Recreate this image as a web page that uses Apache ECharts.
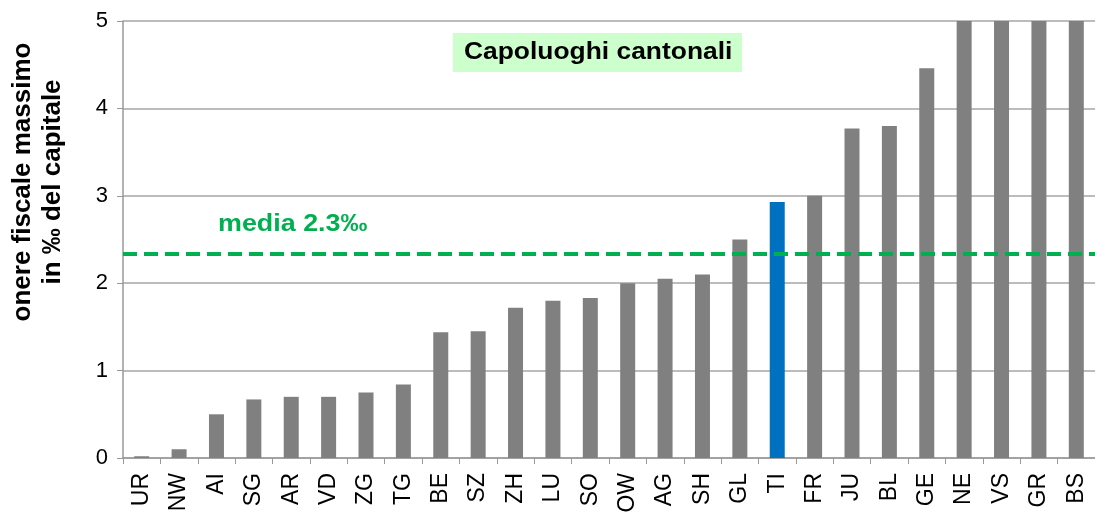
<!DOCTYPE html>
<html>
<head>
<meta charset="utf-8">
<script src="https://cdn.jsdelivr.net/npm/echarts@6/dist/echarts.min.js"></script>
<style>
  html, body { margin: 0; padding: 0; background: #fff; }
  #chart { width: 1095px; height: 521px; }
</style>
</head>
<body>
<div id="chart"></div>
<script>
// cantons, sorted by tax burden
const cantons = ["UR", "NW", "AI", "SG", "AR", "VD", "ZG", "TG", "BE", "SZ", "ZH", "LU", "SO",
  "OW", "AG", "SH", "GL", "TI", "FR", "JU", "BL", "GE", "NE", "VS", "GR", "BS"];
// onere fiscale massimo in ‰ (values above 5 are cut off in the picture)
const burden = [0.02, 0.1, 0.5, 0.67, 0.7, 0.7, 0.75, 0.84, 1.44, 1.45, 1.72, 1.8, 1.83,
  2.0, 2.05, 2.1, 2.5, 2.93, 3.0, 3.77, 3.8, 4.46, 5.2, 5.4, 5.6, 5.8];
const highlight = "TI";
const mean = 2.34;
const yTicks = [0, 1, 2, 3, 4, 5];

const chart = echarts.init(document.getElementById("chart"));
const font = "Liberation Sans, Arial, sans-serif";

chart.setOption({
  animation: false,
  textStyle: { fontFamily: font },
  graphic: [
    // title box
    {
      type: "rect", left: 453, top: 33, z: 10,
      shape: { width: 289, height: 39 },
      style: { fill: "#ccffcc" }
    },
    {
      type: "text", x: 464, y: 52, scaleX: 1.1, z: 11,
      style: {
        text: "Capoluoghi cantonali", fill: "#000",
        fontSize: 24, fontWeight: "bold", fontFamily: font,
        align: "left", verticalAlign: "middle"
      }
    },
    // mean label
    {
      type: "text", x: 218, y: 224, scaleX: 1.12, z: 11,
      style: {
        text: "media 2.3‰", fill: "#00b050",
        fontSize: 24, fontWeight: "bold", fontFamily: font,
        align: "left", verticalAlign: "middle"
      }
    },
    // y axis name
    {
      type: "text", x: 38, y: 182, rotation: Math.PI / 2, z: 11,
      style: {
        text: "onere fiscale massimo\nin ‰ del capitale", fill: "#000",
        fontSize: 26, fontWeight: "bold", fontFamily: font, lineHeight: 30,
        align: "center", verticalAlign: "middle"
      }
    }
  ],
  grid: { left: 123, right: -4, top: 21, bottom: 63 },
  xAxis: {
    type: "category",
    data: cantons,
    axisLine: { lineStyle: { color: "#999", width: 1.5 } },
    axisTick: { show: true, alignWithLabel: false, length: 6, lineStyle: { color: "#999" } },
    axisLabel: { rotate: 90, fontSize: 23, color: "#000", margin: 15, interval: 0 }
  },
  yAxis: {
    type: "value",
    min: yTicks[0], max: yTicks[yTicks.length - 1], interval: 1,
    axisLine: { show: true, lineStyle: { color: "#999", width: 1.5 } },
    axisTick: { show: true, length: 6, lineStyle: { color: "#999" } },
    axisLabel: { fontSize: 22, color: "#000", margin: 15 },
    splitLine: { lineStyle: { color: "#a6a6a6", width: 1.5 } }
  },
  series: [{
    type: "bar",
    barWidth: 15,
    data: burden.map((v, i) => ({
      value: v,
      itemStyle: { color: cantons[i] === highlight ? "#0070c0" : "#808080" }
    })),
    markLine: {
      symbol: "none",
      silent: true,
      label: { show: false },
      lineStyle: { color: "#00b050", type: [14, 7], width: 4 },
      data: [{ yAxis: mean }]
    }
  }]
});
</script>
</body>
</html>
